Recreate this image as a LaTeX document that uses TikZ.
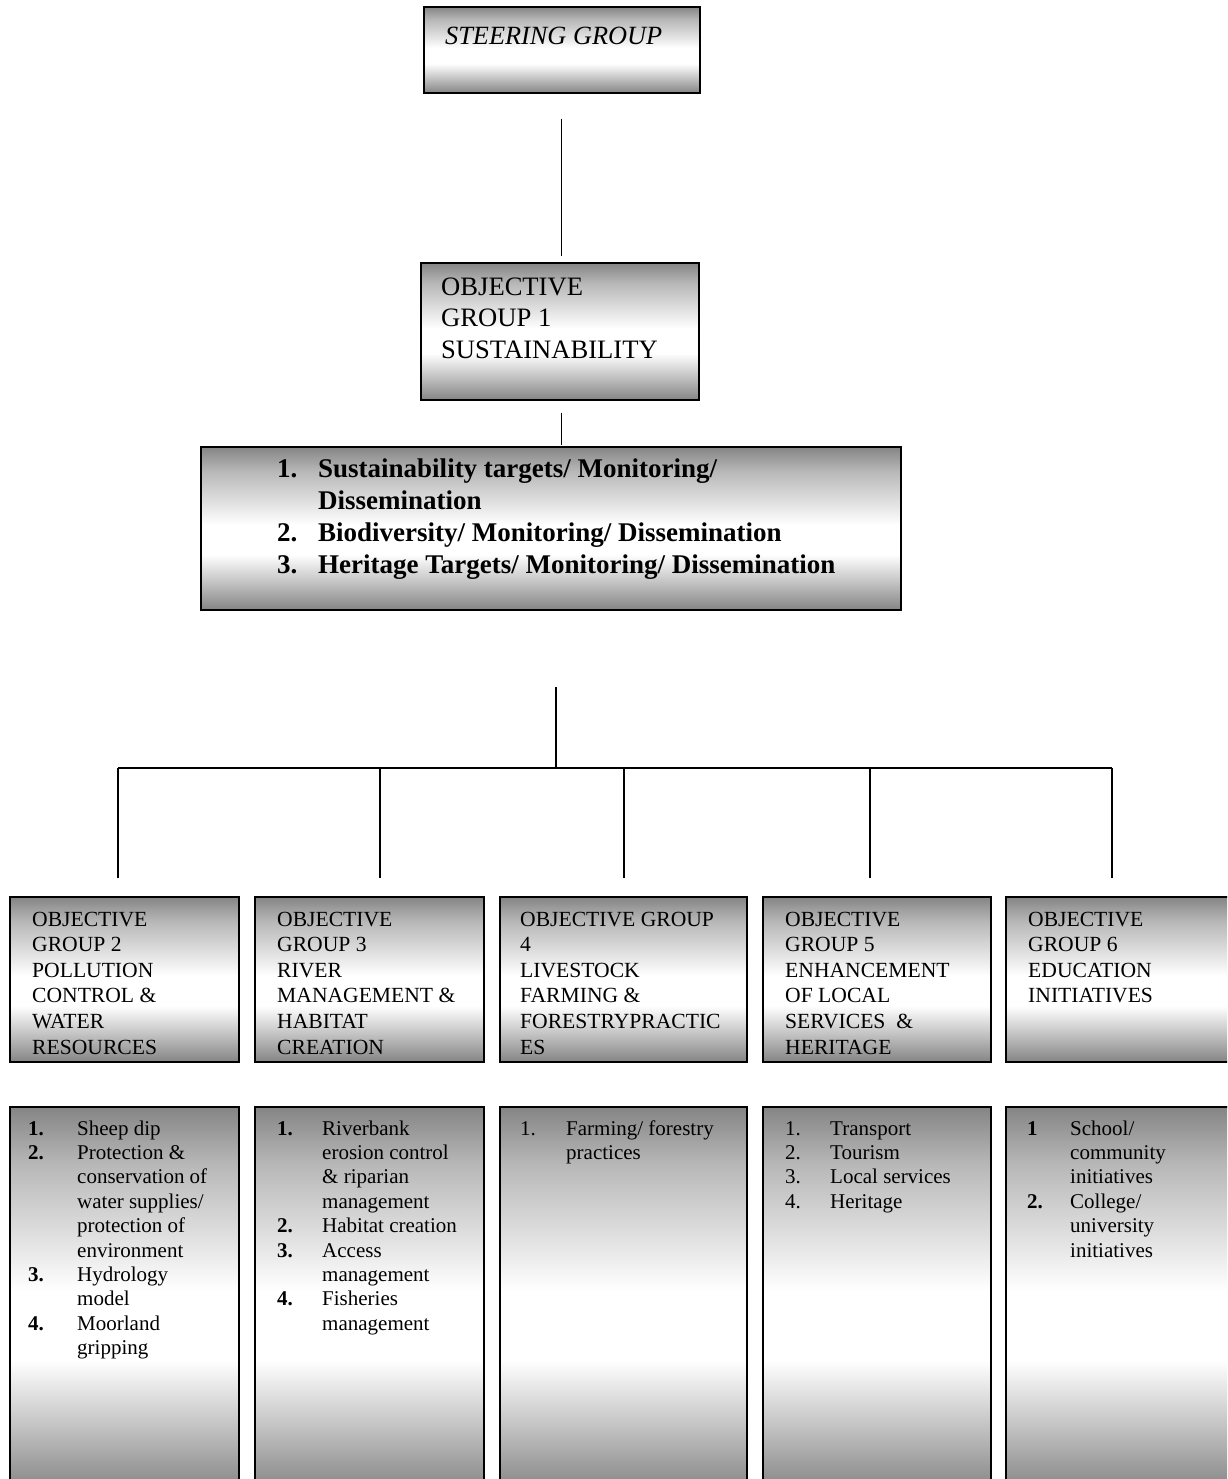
\documentclass[tikz,border=0pt]{standalone}
\usepackage{fontspec}
\setmainfont{Liberation Serif}
\pgfdeclareverticalshading{boxshade}{100bp}{color(0bp)=(black!48); color(25bp)=(black!48); color(34bp)=(black!22); color(42bp)=(white); color(51bp)=(white); color(58bp)=(black!12); color(67.5bp)=(black!28); color(75bp)=(black!48); color(100bp)=(black!48)}
\tikzset{
  box/.style={draw=black, line width=1.6pt, shading=boxshade, rectangle, inner sep=0pt, anchor=north west},
  conn/.style={draw=black, line width=1.1pt},
  txt/.style={anchor=base west, inner sep=0pt, text=black},
  bigtxt/.style={txt, font=\fontsize{26.6}{31.5}\selectfont},
  grptxt/.style={txt, font=\fontsize{21.6}{25.6}\selectfont},
  listtxt/.style={txt, font=\fontsize{21}{24.4}\selectfont},
}
\newcommand{\grtab}[1]{\begin{tabular}[t]{@{}l@{}}#1\end{tabular}}
\newcommand{\lstab}[2]{\begin{tabular}[t]{@{}p{#1}@{}l@{}}#2\end{tabular}}
\begin{document}
\begin{tikzpicture}[x=1pt,y=-1pt]
\useasboundingbox (0,0) rectangle (1227,1479);
\clip (0,0) rectangle (1227,1479);
% boxes
\node[box, minimum width=276pt, minimum height=86pt] (steer) at (423,6) {};
\node[box, minimum width=278pt, minimum height=137pt] (og1) at (420,262) {};
\node[box, minimum width=700pt, minimum height=163pt] (tgt) at (200,446) {};
\node[box, minimum width=229pt, minimum height=165pt] (og2) at (9,896) {};
\node[box, minimum width=229pt, minimum height=165pt] (og3) at (254,896) {};
\node[box, minimum width=247pt, minimum height=165pt] (og4) at (499,896) {};
\node[box, minimum width=228pt, minimum height=165pt] (og5) at (762,896) {};
\node[box, minimum width=240pt, minimum height=165pt] (og6) at (1005,896) {};
\node[box, minimum width=229pt, minimum height=384pt] (l2) at (9,1106) {};
\node[box, minimum width=229pt, minimum height=384pt] (l3) at (254,1106) {};
\node[box, minimum width=247pt, minimum height=384pt] (l4) at (499,1106) {};
\node[box, minimum width=228pt, minimum height=384pt] (l5) at (762,1106) {};
\node[box, minimum width=240pt, minimum height=384pt] (l6) at (1005,1106) {};
% texts
\node[txt, font=\fontsize{26.3}{31.5}\selectfont\itshape] (steert) at (445,45) {STEERING GROUP};
\node[bigtxt] (og1t) at (441,295) {\grtab{OBJECTIVE\\GROUP 1\\SUSTAINABILITY}};
\node[txt, font=\fontsize{27}{32}\selectfont\bfseries] (tgtt) at (277,477) {\lstab{41pt}{1.&Sustainability targets/ Monitoring/\\&Dissemination\\2.&Biodiversity/ Monitoring/ Dissemination\\3.&Heritage Targets/ Monitoring/ Dissemination}};
\node[grptxt] (og2t) at (32,926) {\grtab{OBJECTIVE\\GROUP 2\\POLLUTION\\CONTROL \&\\WATER\\RESOURCES}};
\node[grptxt] (og3t) at (277,926) {\grtab{OBJECTIVE\\GROUP 3\\RIVER\\MANAGEMENT \&\\HABITAT\\CREATION}};
\node[grptxt] (og4t) at (520,926) {\grtab{OBJECTIVE GROUP\\4\\LIVESTOCK\\FARMING \&\\FORESTRYPRACTIC\\ES}};
\node[grptxt] (og5t) at (785,926) {\grtab{OBJECTIVE\\GROUP 5\\ENHANCEMENT\\OF LOCAL\\SERVICES\ \ \&\\HERITAGE}};
\node[grptxt] (og6t) at (1028,926) {\grtab{OBJECTIVE\\GROUP 6\\EDUCATION\\INITIATIVES}};
\node[listtxt] (l2t) at (28,1135) {\lstab{49pt}{\textbf{1.}&Sheep dip\\\textbf{2.}&Protection \&\\&conservation of\\&water supplies/\\&protection of\\&environment\\\textbf{3.}&Hydrology\\&model\\\textbf{4.}&Moorland\\&gripping}};
\node[listtxt] (l3t) at (277,1135) {\lstab{45pt}{\textbf{1.}&Riverbank\\&erosion control\\&\& riparian\\&management\\\textbf{2.}&Habitat creation\\\textbf{3.}&Access\\&management\\\textbf{4.}&Fisheries\\&management}};
\node[listtxt] (l4t) at (520,1135) {\lstab{46pt}{1.&Farming/ forestry\\&practices}};
\node[listtxt] (l5t) at (785,1135) {\lstab{45pt}{1.&Transport\\2.&Tourism\\3.&Local services\\4.&Heritage}};
\node[listtxt] (l6t) at (1027,1135) {\lstab{43pt}{\textbf{1}&School/\\&community\\&initiatives\\\textbf{2.}&College/\\&university\\&initiatives}};
% connectors
\coordinate (hub) at (556,768);
\coordinate (b2) at (118,768);
\coordinate (b3) at (380,768);
\coordinate (b4) at (624,768);
\coordinate (b5) at (870,768);
\coordinate (b6) at (1112,768);
\draw[conn, shorten <=25pt, shorten >=6pt] (steer.south) -- (steer.south |- og1.north);
\draw[conn, shorten <=12pt, shorten >=1pt] ([xshift=2pt]og1.south) -- ([xshift=2pt]og1.south |- tgt.north);
\draw[conn, shorten <=76pt] (tgt.south -| hub) -- (hub);
\draw[conn] (b2) -- (b6);
\foreach \i in {2,...,6} {
  \draw[conn, shorten >=18pt] (b\i) -- (b\i |- og\i.north);
}
\end{tikzpicture}
\end{document}
